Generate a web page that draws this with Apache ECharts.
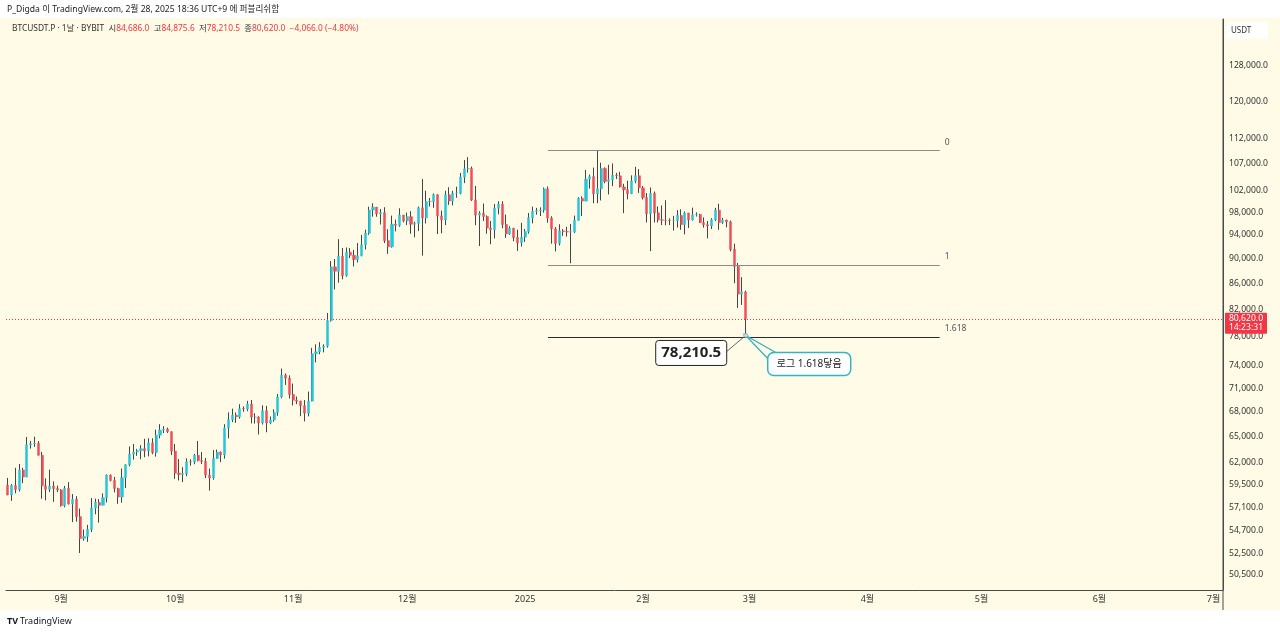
<!DOCTYPE html>
<html><head><meta charset="utf-8">
<script src="https://cdn.jsdelivr.net/npm/echarts@6/dist/echarts.min.js"></script>
<style>html,body{margin:0;padding:0;background:#fff}#c{width:1280px;height:634px}</style>
</head><body><div id="c"></div>
<script>
// ---------- DATA ----------
const firstDate = '2024-08-18';
const axisDays = 320; // time axis extends into the future (to early July 2025)
const opens = [
59490,58430,59440,59010,61160,60380,64040,64160,64220,62830,59420,59030,59370,59120,
58970,57300,59130,57480,57970,56160,53960,54160,54870,57040,57650,57340,58130,60570,60000,59130,58210,60310,61760,62950,63200,63350,63580,63340,64260,63140,65180,65790,65890,65600,
63300,60800,60650,60750,62080,62060,62820,62220,62130,60580,60270,62450,63190,62850,66050,67040,67610,67400,68420,68360,69000,67370,67380,66650,68160,66640,67010,67930,69910,72720,72340,
70220,69480,69360,68780,67850,69360,75640,75900,76540,76700,80370,88650,87950,90380,87250,91060,90560,89850,90460,92310,94290,98350,98890,97670,97900,93010,91960,95860,95650,97460,
96410,97190,95840,96000,98770,96970,99890,99920,101170,97320,96600,101140,100000,101420,101420,104460,106060,106130,100200,97460,97760,97220,95190,94900,98700,99420,95800,94160,95160,93530,92640,
93580,94590,96980,98140,98240,98350,102250,96950,95040,92550,94700,94560,94490,94520,96530,100500,99990,104080,104560,101330,102260,106140,103650,103960,104820,104710,102600,102080,101330,103730,104730,
102430,100640,97700,101400,97870,96620,96550,96530,96470,96480,97400,95780,97840,96620,97500,97570,96120,95770,95550,96630,98330,96130,96580,96270,91530,88740,84350,84686
];
const highs = [
60280,59600,61400,61830,61400,64950,64500,65000,64480,63210,60230,61190,59900,59430,
59050,59400,59810,58520,58300,56990,54850,55320,58100,58040,57990,58590,60670,60670,60390,59200,61320,61780,63850,64130,63560,64000,64750,64810,64810,65840,66500,66260,66080,65620,
64130,62390,61470,62480,62370,62980,64480,63200,62520,61320,63420,63480,63280,66500,67950,68420,67940,68970,68690,69400,69500,67840,67470,68830,68770,67450,68340,70270,73620,72960,72700,
71630,69950,69410,69500,70580,76460,76950,77250,76960,81500,89600,89940,93270,91780,91850,91760,91450,92600,94000,94900,98970,99590,98890,98560,98870,94970,97370,96650,98690,97460,
97900,98150,96300,99000,104090,101900,100550,101400,101200,98270,101900,102550,101900,102650,105250,107780,108350,106500,102800,98150,99540,97400,96400,99450,99960,99960,97550,95500,95200,94900,96100,
95000,97830,98980,98750,98850,102500,102700,97250,95350,95840,95000,95400,95900,97370,100700,100870,105850,104950,106300,109600,107250,106330,106850,107100,105280,105500,103200,103800,104800,106450,106000,
102780,101460,102500,101750,99000,99200,100140,96880,97320,98340,98500,98120,97850,98800,97950,97700,97050,96400,96900,98750,99500,96970,96670,96500,92500,89300,87000,84875.6
];
const lows = [
58400,57800,58600,58800,59700,60350,63600,63800,62800,58030,57860,58750,57700,58740,
57200,57130,57410,55600,55650,52550,53740,53630,54600,56400,55550,57320,57630,59900,58700,57490,57610,59170,61560,62330,62760,62370,62600,62700,62950,62670,64800,65420,65440,62860,
60170,60000,59830,60460,61640,61800,62130,61830,60260,58900,60080,62450,62040,62440,64800,66750,66660,67170,68030,68100,66600,66570,65260,66460,65520,66500,66800,67520,69730,71440,69690,
68820,68980,67480,66830,67460,69340,74460,75560,75830,76490,80220,85070,86130,86670,87080,90090,88730,89380,90390,91520,94000,97180,97170,95800,92600,90790,91820,94600,95380,96160,
95700,94200,93580,94660,90500,95980,99000,98770,94150,94260,95690,99310,99200,100600,101230,103330,105320,100000,95670,92100,96400,94200,92400,93400,97600,95140,93500,94000,92900,91300,92000,
92800,94200,96000,97530,97300,97900,96100,92500,91200,92200,93830,93700,89250,94300,96500,97300,99950,102300,99600,99600,100100,103300,101200,102750,104100,102500,97800,100300,101300,103300,101500,
100280,96150,91230,96150,96150,95700,95650,95700,94750,95260,94870,94090,95200,96500,97200,96050,95250,93400,95000,96400,94870,95900,95300,91200,86050,82250,82700,78210.5
];
const closes = [
58430,59440,59010,61160,60380,64040,64160,64220,62830,59420,59030,59370,59120,58970,
57300,59130,57480,57970,56160,53960,54160,54870,57040,57650,57340,58130,60570,60000,59130,58210,60310,61760,62950,63200,63350,63580,63340,64260,63140,65180,65790,65890,65600,63300,
60800,60650,60750,62080,62060,62820,62220,62130,60580,60270,62450,63190,62850,66050,67040,67610,67400,68420,68360,69000,67370,67380,66650,68160,66640,67010,67930,69910,72720,72340,70220,
69480,69360,68780,67850,69360,75640,75900,76540,76700,80370,88650,87950,90380,87250,91060,90560,89850,90460,92310,94290,98350,98890,97670,97900,93010,91960,95860,95650,97460,96410,
97190,95840,96000,98770,96970,99890,99920,101170,97320,96600,101140,100000,101420,101420,104460,106060,106130,100200,97460,97760,97220,95190,94900,98700,99420,95800,94160,95160,93530,92640,93580,
94590,96980,98140,98240,98350,102250,96950,95040,92550,94700,94560,94490,94520,96530,100500,99990,104080,104560,101330,102260,106140,103650,103960,104820,104710,102600,102080,101330,103730,104730,102430,
100640,97700,101400,97870,96620,96550,96530,96470,96480,97400,95780,97840,96620,97500,97570,96120,95770,95550,96630,98330,96130,96580,96270,91530,88740,84350,84686,80620
];
const priceTicks = [50500,52500,54700,57100,59500,62000,65000,68000,71000,74000,78000,82000,86000,90000,94000,98000,102000,107000,112000,120000,128000];
const fibLabels = ['0','1','1.618'];
const fibValues = [109700, 89000, 78000];
const fibStart = '2025-01-07', fibEnd = '2025-04-20';
const lastPrice = 80620, lastPriceTimer = '14:23:31';
const lowLabel = '78,210.5', noteLabel = '로그 1.618닿음';

// ---------- BUILD ----------
const dates = [];
{ const d0 = new Date(firstDate + 'T00:00:00Z');
  for (let i = 0; i < axisDays; i++) { const d = new Date(d0.getTime() + i*86400000); dates.push(d.toISOString().slice(0,10)); } }
const full = opens.map((o,i)=>[o, closes[i], lows[i], highs[i]]);
const bodies = opens.map((o,i)=>[o, closes[i], Math.min(o,closes[i]), Math.max(o,closes[i])]);
const fmt = v => v.toLocaleString('en-US',{minimumFractionDigits:1, maximumFractionDigits:1});
const UP = '#26c6da', DOWN = '#ef4f5a', WICK = '#454545', BG = '#fffbe6';
const FONT = 'Noto Sans, Noto Sans CJK KR, sans-serif';

const fibLineColors = ['#8a8a8a','#8a8a8a','#2a2a2a'];
const markData = [
  { yAxis: lastPrice, lineStyle: {color:'#f23645', type:[1,2], width:1, opacity:1}, label:{show:false} }
];
fibValues.forEach((v,i)=>{
  markData.push([
    {coord:[fibStart, v], lineStyle:{color:fibLineColors[i], type:'solid', width:1, opacity:1},
     label:{show:true, position:'end', distance:5, formatter: fibLabels[i], color:'#555', fontSize:8.5, fontFamily:FONT, verticalAlign:'bottom', padding:[0,0,4,0]}},
    {coord:[fibEnd, v]}
  ]);
});

const chart = echarts.init(document.getElementById('c'));
chart.setOption({
  animation:false,
  backgroundColor: BG,
  grid:{left:6, right:57, top:19, bottom:44, outerBoundsMode:'none'},
  xAxis:{type:'category', data:dates, boundaryGap:true,
    axisLine:{show:true, lineStyle:{color:'#4a4a4a', width:1}}, axisTick:{show:false}, splitLine:{show:false},
    axisLabel:{interval:(i,v)=>v.slice(8)==='01', formatter:v=>{const m=+v.slice(5,7); return m===1? v.slice(0,4) : m+'월';},
      color:'#333', fontSize:9, margin:5, fontFamily:FONT}},
  yAxis:{type:'log', logBase:10, min:49110, max:139480, position:'right', scale:true,
    axisLine:{show:true, lineStyle:{color:'#4a4a4a', width:1}}, axisTick:{show:false}, splitLine:{show:false},
    axisLabel:{customValues:priceTicks, formatter:v=>fmt(v), color:'#333', fontSize:8.6, margin:6, fontFamily:FONT}},
  series:[
    {type:'candlestick', data:full, barWidth:1, z:2,
     itemStyle:{color:WICK, color0:WICK, borderColor:WICK, borderColor0:WICK, borderColorDoji:WICK, borderWidth:1}},
    {type:'candlestick', data:bodies, barWidth:2.6, z:3,
     itemStyle:{color:UP, color0:DOWN, borderColor:UP, borderColor0:DOWN, borderColorDoji:UP, borderWidth:0.5},
     markLine:{symbol:'none', silent:true, animation:false, data:markData}}
  ]
});

// ---------- ANNOTATIONS & CHROME ----------
const li = opens.length-1;
const [ax, ay] = chart.convertToPixel({seriesIndex:0}, [li, lows[li]]);
const py = chart.convertToPixel({seriesIndex:0}, [li, lastPrice])[1];
const W = chart.getWidth(), H = chart.getHeight();
const axisX = W - 57;
chart.setOption({graphic:[
  {type:'rect', shape:{x:0,y:0,width:W,height:18}, style:{fill:'#fff'}, z:0},
  {type:'rect', shape:{x:0,y:610,width:W,height:H-610}, style:{fill:'#fff'}, z:0},
  {type:'line', shape:{x1:axisX,y1:19,x2:axisX,y2:610}, style:{stroke:'#4a4a4a', lineWidth:1}, z:5},
  {type:'text', x:7, y:10, style:{text:'P_Digda 이 TradingView.com, 2월 28, 2025 18:36 UTC+9 에 퍼블리쉬함', fill:'#222', font:'8.6px '+FONT, verticalAlign:'middle'}},
  {type:'text', x:12, y:29, style:{
    text:'{d|BTCUSDT.P · 1날 · BYBIT}  {d|시}{r|84,686.0}  {d|고}{r|84,875.6}  {d|저}{r|78,210.5}  {d|종}{r|80,620.0}  {r|−4,066.0 (−4.80%)}',
    verticalAlign:'middle', font:'8.4px '+FONT,
    rich:{d:{fill:'#333', font:'8.4px '+FONT}, r:{fill:'#f23645', font:'8.4px '+FONT}}}},
  {type:'rect', shape:{x:axisX+3,y:22,width:42,height:17,r:2}, style:{fill:'#fff'}, z:6},
  {type:'text', x:axisX+8, y:31, style:{text:'USDT', fill:'#333', font:'8px '+FONT, verticalAlign:'middle'}, z:7},
  {type:'text', x:7, y:621, style:{text:'TV', fill:'#131722', font:'bold 9px '+FONT, verticalAlign:'middle'}},
  {type:'text', x:20, y:621, style:{text:'TradingView', fill:'#131722', font:'9px '+FONT, verticalAlign:'middle'}},
  // last price badge on the price scale
  {type:'rect', shape:{x:axisX+2,y:py-6,width:42,height:21,r:1}, style:{fill:'#f23645'}, z:20},
  {type:'text', x:axisX+23, y:py-0.5, style:{text:fmt(lastPrice), fill:'#fff', font:'8.6px '+FONT, align:'center', verticalAlign:'middle'}, z:21},
  {type:'text', x:axisX+23, y:py+9, style:{text:lastPriceTimer, fill:'#fff', font:'8.6px '+FONT, align:'center', verticalAlign:'middle'}, z:21},
  // low annotation
  {type:'line', shape:{x1:ax-19,y1:ay+16,x2:ax,y2:ay}, style:{stroke:'#666', lineWidth:1}, z:10},
  {type:'rect', shape:{x:ax-90,y:ay+5,width:71,height:25,r:3}, style:{fill:'#fff', stroke:'#222', lineWidth:1}, z:10},
  {type:'text', x:ax-54.5, y:ay+17.5, style:{text:lowLabel, fill:'#222', font:'bold 15px '+FONT, align:'center', verticalAlign:'middle'}, z:11},
  {type:'polyline', shape:{points:[[ax+30,ay+17],[ax,ay],[ax+22,ay+23]]}, style:{stroke:'#35b3c0', lineWidth:1.3, fill:null}, z:10},
  {type:'rect', shape:{x:ax+22,y:ay+17,width:83,height:23,r:6}, style:{fill:'#fff', stroke:'#35b3c0', lineWidth:1.5}, z:10},
  {type:'text', x:ax+63.5, y:ay+28.5, style:{text:noteLabel, fill:'#222', font:'10px '+FONT, align:'center', verticalAlign:'middle'}, z:11},
  {type:'circle', shape:{cx:ax, cy:ay, r:2}, style:{fill:'#bfe6ea', stroke:'#7a9ea3', lineWidth:0.8}, z:12}
]});
</script></body></html>
